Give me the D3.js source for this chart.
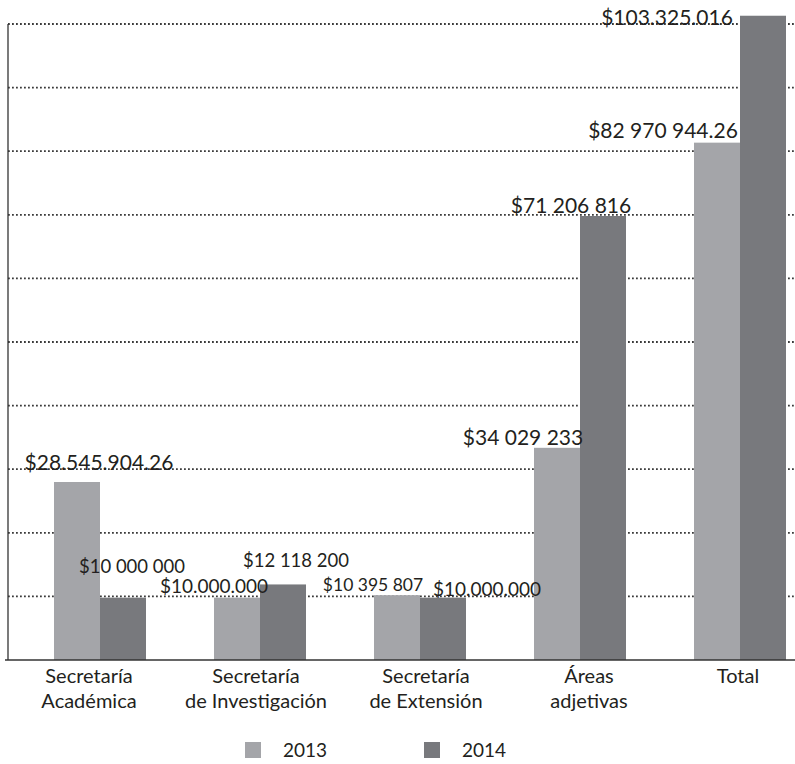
<!DOCTYPE html>
<html>
<head>
<meta charset="utf-8">
<script src="https://cdn.jsdelivr.net/npm/d3@7"></script>
<style>
  html, body { margin: 0; padding: 0; background: #fff; }
  svg { display: block; font-family: Lato, "Open Sans", sans-serif; }
</style>
</head>
<body>
<div id="chart"></div>
<script>
// ---- data ----
const categories = [
  ["Secretaría", "Académica"],
  ["Secretaría", "de Investigación"],
  ["Secretaría", "de Extensión"],
  ["Áreas", "adjetivas"],
  ["Total"]
];
const seriesNames = ["2013", "2014"];
const values2013 = [28545904.26, 10000000, 10395807, 34029233, 82970944.26];
const values2014 = [10000000, 12118200, 10000000, 71206816, 103325016];
const labels2013 = ["$28.545.904.26", "$10.000.000", "$10 395 807", "$34 029 233", "$82 970 944.26"];
const labels2014 = ["$10 000 000", "$12 118 200", "$10.000.000", "$71 206 816", "$103.325.016"];
const yMax = 102000000;
const gridCount = 10;

// ---- layout / style (not data) ----
const W = 795, H = 764;
const plot = { left: 8, right: 795, top: 24, bottom: 660 };
const colors = { "2013": "#a4a5a9", "2014": "#78797d" };
// label placement relative to each bar: dx from bar centre, dy from bar top, font size
const place2013 = [
  { dx: 18, dy: -12, size: 21 },
  { dx: -27, dy: -5, size: 19 },
  { dx: -28, dy: -4, size: 17.5 },
  { dx: -38, dy: -3, size: 21 },
  { dx: -58, dy: -5, size: 21 }
];
const place2014 = [
  { dx: 5, dy: -25, size: 18.5 },
  { dx: 9, dy: -17, size: 18.5 },
  { dx: 40, dy: -2, size: 19 },
  { dx: -36, dy: -3, size: 21 },
  { dx: -100, dy: 9, size: 21 }
];
const catDx = [-15, -8, 2, 5, -6];

const svg = d3.select("#chart").append("svg").attr("width", W).attr("height", H);

const x = d3.scaleBand().domain(d3.range(categories.length))
  .range([20, 820]).paddingInner(0.425).paddingOuter(0.2125);
const xs = d3.scaleBand().domain(seriesNames).range([0, x.bandwidth()]);
const y = d3.scaleLinear().domain([0, yMax]).range([plot.bottom, plot.top]);

// gridlines
const gridVals = d3.range(1, gridCount + 1).map(k => k * yMax / gridCount);
svg.append("g").selectAll("line").data(gridVals).join("line")
  .attr("x1", plot.left).attr("x2", plot.right)
  .attr("y1", d => y(d)).attr("y2", d => y(d))
  .attr("stroke", "#3a3a3a").attr("stroke-width", 1.8)
  .attr("stroke-dasharray", "1.8 2.2");

// bars
const series = [
  { name: "2013", vals: values2013, labels: labels2013, place: place2013 },
  { name: "2014", vals: values2014, labels: labels2014, place: place2014 }
];
series.forEach(s => {
  svg.append("g").selectAll("rect").data(s.vals).join("rect")
    .attr("x", (d, i) => x(i) + xs(s.name))
    .attr("y", d => y(d))
    .attr("width", xs.bandwidth())
    .attr("height", d => y(0) - y(d))
    .attr("fill", colors[s.name]);
});

// axes lines
svg.append("line").attr("x1", plot.left).attr("x2", plot.left)
  .attr("y1", plot.top).attr("y2", plot.bottom)
  .attr("stroke", "#333").attr("stroke-width", 1.3);
svg.append("line").attr("x1", 5).attr("x2", plot.right)
  .attr("y1", plot.bottom).attr("y2", plot.bottom)
  .attr("stroke", "#333").attr("stroke-width", 1.6);

// value labels
series.forEach(s => {
  svg.append("g").selectAll("text").data(s.vals).join("text")
    .attr("x", (d, i) => x(i) + xs(s.name) + xs.bandwidth() / 2 + s.place[i].dx + 4)
    .attr("y", (d, i) => y(d) + s.place[i].dy)
    .attr("text-anchor", "middle")
    .attr("font-size", (d, i) => s.place[i].size)
    .attr("fill", "#231f20")
    .text((d, i) => s.labels[i]);
});

// category labels
const cat = svg.append("g").selectAll("text").data(categories).join("text")
  .attr("text-anchor", "middle")
  .attr("font-size", 20)
  .attr("fill", "#231f20");
cat.each(function(lines, i) {
  const t = d3.select(this);
  lines.forEach((ln, j) => {
    t.append("tspan")
      .attr("x", x(i) + x.bandwidth() / 2 + catDx[i] + 4)
      .attr("y", 683 + j * 25)
      .text(ln);
  });
});

// legend
const legend = svg.append("g");
const legendX = [245, 424];
seriesNames.forEach((n, i) => {
  legend.append("rect").attr("x", legendX[i]).attr("y", 742)
    .attr("width", 16).attr("height", 16).attr("fill", colors[n]);
  legend.append("text").attr("x", legendX[i] + 38).attr("y", 757)
    .attr("font-size", 19).attr("fill", "#231f20").text(n);
});
</script>
</body>
</html>
